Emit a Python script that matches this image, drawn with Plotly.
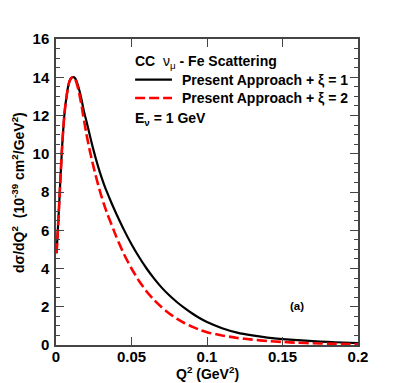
import plotly.graph_objects as go

# Q^2 (GeV^2) and d sigma / dQ^2 (10^-39 cm^2/GeV^2)
q2_xi1 = [0.0004, 0.001, 0.002, 0.003, 0.004, 0.005, 0.006, 0.007, 0.008, 0.009,
          0.010, 0.011, 0.012, 0.013, 0.014, 0.015, 0.016, 0.017, 0.018, 0.019,
          0.020, 0.022, 0.024, 0.026, 0.028, 0.030, 0.032, 0.034, 0.036, 0.038,
          0.040, 0.045, 0.050, 0.055, 0.060, 0.065, 0.070, 0.075, 0.080, 0.085,
          0.090, 0.095, 0.100, 0.110, 0.120, 0.130, 0.140, 0.150, 0.160, 0.170,
          0.180, 0.190, 0.200]
xs_xi1 = [4.8, 5.7, 7.2, 8.8, 10.3, 11.5, 12.4, 13.0, 13.5, 13.8,
          13.95, 14.0, 14.0, 13.9, 13.7, 13.45, 13.15, 12.8, 12.4, 12.05,
          11.75, 11.1, 10.45, 9.85, 9.3, 8.8, 8.35, 7.95, 7.57, 7.2,
          6.85, 6.02, 5.27, 4.6, 4.0, 3.47, 3.0, 2.6, 2.25, 1.94,
          1.66, 1.41, 1.2, 0.88, 0.65, 0.5, 0.39, 0.31, 0.25, 0.2,
          0.16, 0.13, 0.10]

q2_xi2 = q2_xi1
xs_xi2 = [4.8, 5.7, 7.2, 8.8, 10.3, 11.5, 12.4, 13.0, 13.5, 13.8,
          13.95, 14.0, 14.0, 13.85, 13.6, 13.3, 12.9, 12.5, 12.0, 11.55,
          11.1, 10.3, 9.6, 8.95, 8.35, 7.8, 7.3, 6.85, 6.45, 6.05,
          5.65, 4.75, 4.0, 3.35, 2.8, 2.35, 1.97, 1.65, 1.38, 1.15,
          0.96, 0.80, 0.67, 0.50, 0.37, 0.28, 0.21, 0.16, 0.12, 0.09,
          0.07, 0.05, 0.04]

x_ticks = [0, 0.05, 0.1, 0.15, 0.2]
x_labels = ["0", "0.05", "0.1", "0.15", "0.2"]
y_ticks = [0, 2, 4, 6, 8, 10, 12, 14, 16]

FONT = "Liberation Sans"

fig = go.Figure()
fig.add_trace(go.Scatter(x=q2_xi1, y=xs_xi1, mode="lines",
                         line=dict(color="black", width=2.2, shape="spline", smoothing=0.6),
                         showlegend=False))
fig.add_trace(go.Scatter(x=q2_xi2, y=xs_xi2, mode="lines",
                         line=dict(color="#ff0000", width=2.6, dash="10px,4px",
                                   shape="spline", smoothing=0.6),
                         showlegend=False))

axis_common = dict(
    showline=True, linecolor="#444", linewidth=1.5, mirror="ticks",
    ticks="inside", tickcolor="#444", showgrid=False, zeroline=False,
    tickfont=dict(family=FONT, size=15, color="black", weight="bold"),
)
fig.update_xaxes(range=[0, 0.2], tickvals=x_ticks, ticktext=x_labels,
                 ticklen=8, ticklabelstandoff=-3, **axis_common)
fig.update_yaxes(range=[0, 16], tickvals=y_ticks, ticklen=8,
                 minor=dict(dtick=0.5, ticklen=4, ticks="inside", tickcolor="#444"),
                 ticklabelstandoff=2, **axis_common)

txt = dict(family=FONT, size=14, color="black")
annotations = [
    dict(x=0.5, y=-0.09, xref="paper", yref="paper", text="<b>Q<sup>2</sup> (GeV<sup>2</sup>)</b>",
         showarrow=False, font=txt, xanchor="center", yanchor="middle"),
    dict(x=-0.126, y=0.5, xref="paper", yref="paper", textangle=-90,
         text="<b>dσ/dQ<sup>2</sup>  (10<sup>-39</sup> cm<sup>2</sup>/GeV<sup>2</sup>)</b>",
         showarrow=False, font=dict(family=FONT, size=14, color="black"),
         xanchor="center", yanchor="middle"),
    dict(x=0.255, y=0.925, xref="paper", yref="paper",
         text="<b>CC</b>  ν<sub>μ</sub> <b>- Fe Scattering</b>",
         showarrow=False, font=txt, xanchor="left", yanchor="middle"),
    dict(x=0.41, y=0.867, xref="paper", yref="paper",
         text="<b>Present Approach + ξ = 1</b>",
         showarrow=False, font=txt, xanchor="left", yanchor="middle"),
    dict(x=0.41, y=0.807, xref="paper", yref="paper",
         text="<b>Present Approach + ξ = 2</b>",
         showarrow=False, font=txt, xanchor="left", yanchor="middle"),
    dict(x=0.255, y=0.74, xref="paper", yref="paper",
         text="<b>E<sub>ν</sub> = 1 GeV</b>",
         showarrow=False, font=txt, xanchor="left", yanchor="middle"),
    dict(x=0.797, y=0.127, xref="paper", yref="paper", text="<b>(a)</b>",
         showarrow=False, font=dict(family=FONT, size=11.5, color="black"),
         xanchor="center", yanchor="middle"),
]

shapes = [
    dict(type="line", xref="paper", yref="paper", x0=0.262, x1=0.384, y0=0.867, y1=0.867,
         line=dict(color="black", width=2.2)),
    dict(type="line", xref="paper", yref="paper", x0=0.262, x1=0.384, y0=0.807, y1=0.807,
         line=dict(color="#ff0000", width=2.6, dash="10px,4px")),
]

# page body has an 8px margin, so the figure is a bit smaller than the window
fig.update_layout(
    width=391, height=375,
    margin=dict(l=48, r=41, t=31, b=38),
    paper_bgcolor="white", plot_bgcolor="white",
    annotations=annotations, shapes=shapes,
    showlegend=False,
)

fig.write_html("out.html")
